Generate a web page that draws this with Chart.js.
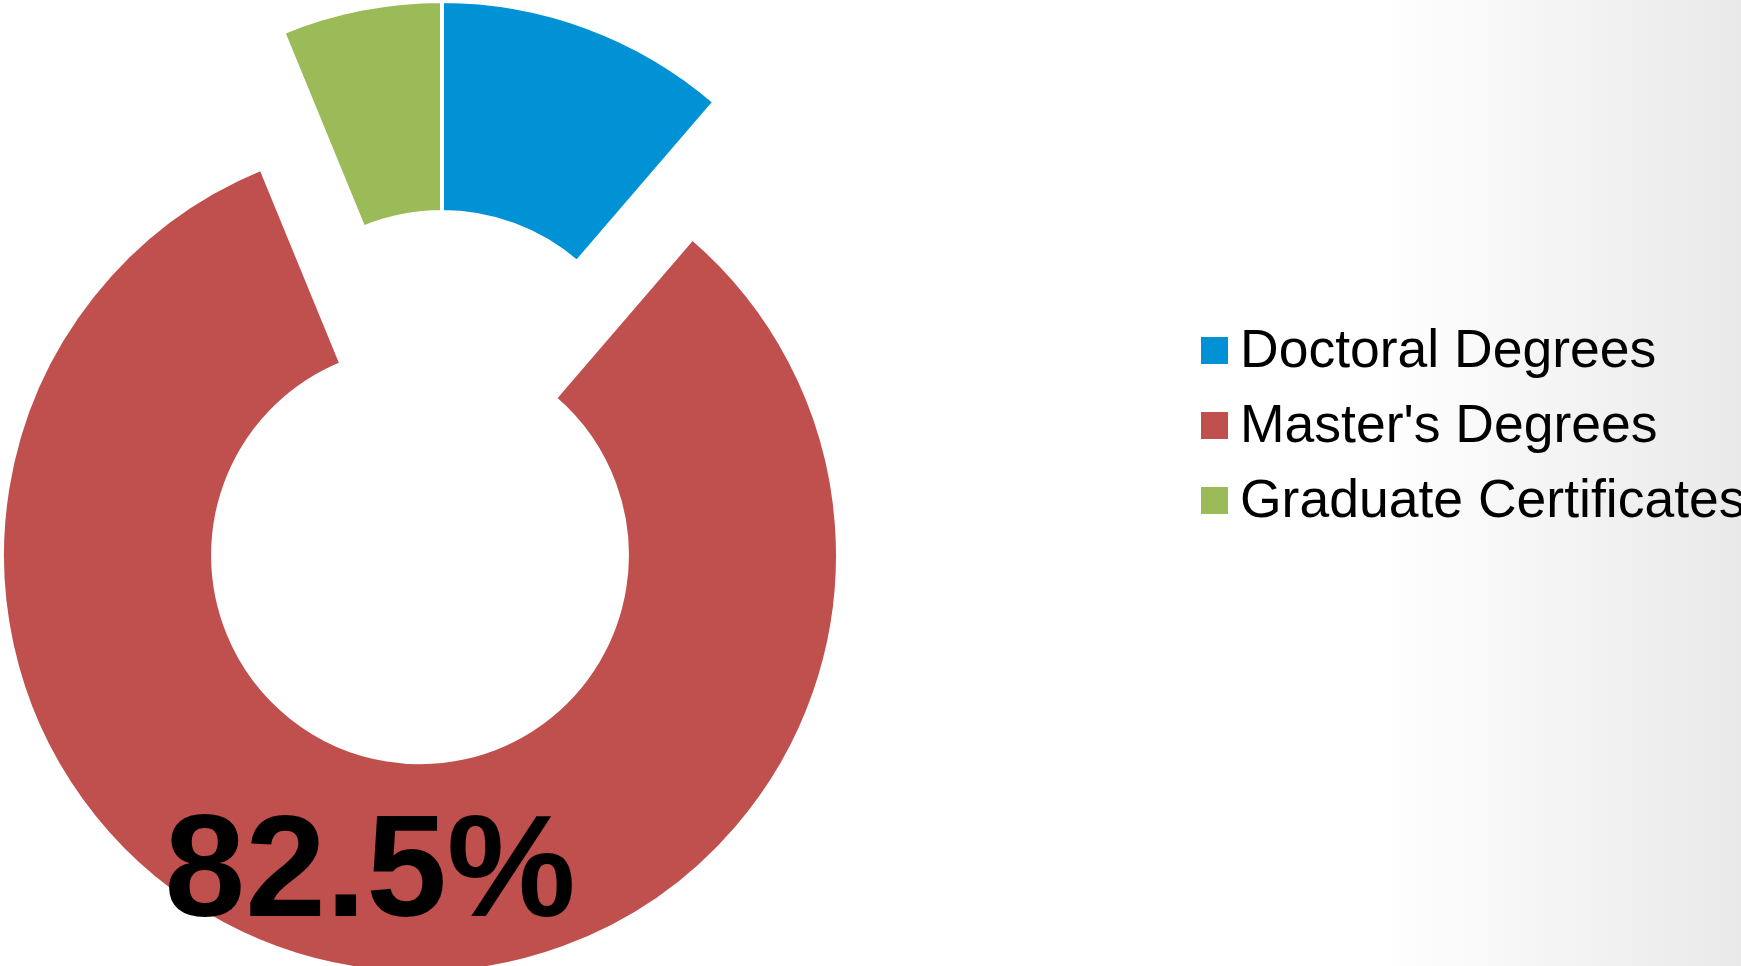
<!DOCTYPE html>
<html>
<head>
	<meta charset="utf-8">
	<title>Degrees Doughnut</title>
	<script src="https://cdn.jsdelivr.net/npm/chart.js@4.4.0/dist/chart.umd.min.js"></script>
	<style>
		html, body { margin: 0; padding: 0; }
		body {
			width: 1741px; height: 966px; overflow: hidden;
			background: linear-gradient(to right, #ffffff 0px, #ffffff 1380px, #e9e9e9 1741px);
		}
		#wrap { position: relative; width: 1741px; height: 966px; }
	</style>
</head>
<body>

	<div id="wrap"><canvas id="mychart"></canvas></div>

	<script type="text/javascript">

		const labels = ['Doctoral Degrees', "Master's Degrees", 'Graduate Certificates'];
		const values = [11.3, 82.5, 6.2];
		const colors = ['#0092D5', '#C0504D', '#9BBB59'];
		const labelled = ["Master's Degrees"];   // slices that get a % label

		// how far each slice is pulled out of the ring (px)
		const explode = [0, 138, 0];

		const explodePlugin = {
			id: 'explode',
			beforeDatasetDraw(chart, args) {
				const ctx = chart.ctx;
				args.meta.data.forEach((arc, i) => {
					const mid = (arc.startAngle + arc.endAngle) / 2;
					ctx.save();
					ctx.translate(Math.cos(mid) * explode[i], Math.sin(mid) * explode[i]);
					arc.draw(ctx);
					ctx.restore();
				});
				return false;
			},
			afterDatasetsDraw(chart) {
				const ctx = chart.ctx;
				const meta = chart.getDatasetMeta(0);
				const total = values.reduce((a, b) => a + b, 0);
				const size = 145;
				meta.data.forEach((arc, i) => {
					if (!labelled.includes(labels[i])) return;
					const mid = (arc.startAngle + arc.endAngle) / 2;
					const r = explode[i] + (arc.innerRadius + arc.outerRadius) / 2;
					ctx.save();
					ctx.font = 'bold ' + size + 'px "Liberation Sans", Arial, sans-serif';
					ctx.fillStyle = '#000000';
					ctx.textAlign = 'center';
					ctx.textBaseline = 'alphabetic';
					// centre the digits (cap height ~0.716em) on the ring middle
					ctx.fillText((values[i] / total * 100).toFixed(1) + '%',
						arc.x + Math.cos(mid) * r, arc.y + Math.sin(mid) * r + size * 0.358);
					ctx.restore();
				});
			}
		};

		// legend on the right, drawn on the same canvas
		const legendStyle = { x: 1201, firstRow: 350.5, rowGap: 75, box: 27, textX: 1240, baseline: 16.5 };
		const legendPlugin = {
			id: 'sideLegend',
			afterDraw(chart) {
				const ctx = chart.ctx;
				const s = legendStyle;
				ctx.save();
				ctx.font = '53.5px "Liberation Sans", Arial, sans-serif';
				ctx.textAlign = 'left';
				ctx.textBaseline = 'alphabetic';
				labels.forEach((lab, i) => {
					const cy = s.firstRow + i * s.rowGap;
					ctx.fillStyle = colors[i];
					ctx.fillRect(s.x, cy - s.box / 2, s.box, s.box);
					ctx.fillStyle = '#000000';
					ctx.fillText(lab, s.textX, cy + s.baseline);
				});
				ctx.restore();
			}
		};

		chartIt();

		function chartIt(){
			const ctx = document.getElementById('mychart').getContext('2d');

			const myChart = new Chart(ctx, {
				type: 'doughnut',
				data: {
					labels: labels,
					datasets: [{
						data: values,
						backgroundColor: colors,
						borderColor: '#ffffff',
						borderWidth: 4,
						hoverOffset: 0,
						clip: false
					}]
				},
				options: {
					responsive: true,
					maintainAspectRatio: false,
					animation: false,
					events: [],
					radius: 418,
					cutout: '49.5%',
					layout: { padding: { left: 0, top: 0, right: 857, bottom: 128 } },
					plugins: {
						legend: { display: false },
						tooltip: { enabled: false }
					}
				},
				plugins: [explodePlugin, legendPlugin]
			});
		}

	</script>

</body>
</html>
